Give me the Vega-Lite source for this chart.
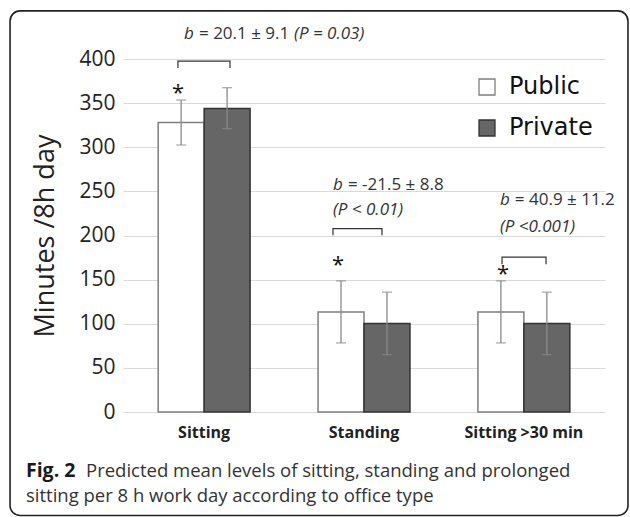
{
  "$schema": "https://vega.github.io/schema/vega-lite/v6.json",
  "width": 482,
  "height": 353,
  "autosize": {"type": "none"},
  "padding": {"left": 123, "top": 59, "right": 25, "bottom": 105},
  "background": "white",
  "config": {"view": {"stroke": null}, "font": "Open Sans"},
  "datasets": {
    "bars": [
      {"cat": "Sitting", "type": "Public", "value": 328, "lo": 302.5, "hi": 353.5},
      {"cat": "Sitting", "type": "Private", "value": 344, "lo": 321, "hi": 367.5},
      {"cat": "Standing", "type": "Public", "value": 113.4, "lo": 78.3, "hi": 148.6},
      {"cat": "Standing", "type": "Private", "value": 100.3, "lo": 65, "hi": 135.8},
      {"cat": "Sitting >30 min", "type": "Public", "value": 113.4, "lo": 78.3, "hi": 148.6},
      {"cat": "Sitting >30 min", "type": "Private", "value": 100.3, "lo": 65, "hi": 135.8}
    ],
    "brackets": [
      {"id": 1, "ord": 1, "bx": 0.342, "by": 389.8},
      {"id": 1, "ord": 2, "bx": 0.342, "by": 397.7},
      {"id": 1, "ord": 3, "bx": 0.666, "by": 397.7},
      {"id": 1, "ord": 4, "bx": 0.666, "by": 389.8},
      {"id": 2, "ord": 1, "bx": 1.307, "by": 200.4},
      {"id": 2, "ord": 2, "bx": 1.307, "by": 207.8},
      {"id": 2, "ord": 3, "bx": 1.612, "by": 207.8},
      {"id": 2, "ord": 4, "bx": 1.612, "by": 200.4},
      {"id": 3, "ord": 1, "bx": 2.359, "by": 167.5},
      {"id": 3, "ord": 2, "bx": 2.359, "by": 175.5},
      {"id": 3, "ord": 3, "bx": 2.633, "by": 175.5},
      {"id": 3, "ord": 4, "bx": 2.633, "by": 167.5}
    ],
    "stars": [
      {"sx": 0.342, "sy": 368.2},
      {"sx": 1.338, "sy": 173.2},
      {"sx": 2.365, "sy": 163.0}
    ],
    "notesItalic": [
      {"nx": 0.380, "ny": 428.2, "label": "b"},
      {"nx": 1.065, "ny": 428.2, "label": "(P = 0.03)"},
      {"nx": 1.307, "ny": 257.1, "label": "b"},
      {"nx": 1.307, "ny": 228.7, "label": "(P < 0.01)"},
      {"nx": 2.346, "ny": 240.2, "label": "b"},
      {"nx": 2.346, "ny": 209.6, "label": "(P <0.001)"}
    ],
    "notesRegular": [
      {"nx": 0.473, "ny": 428.2, "label": "= 20.1 ± 9.1"},
      {"nx": 1.400, "ny": 257.1, "label": "= -21.5 ± 8.8"},
      {"nx": 2.439, "ny": 240.2, "label": "= 40.9 ± 11.2"}
    ],
    "captionBold": [
      {"cx": -0.604, "cy": -74.1, "label": "Fig. 2"}
    ],
    "captionRegular": [
      {"cx": -0.230, "cy": -74.1, "label": "Predicted mean levels of sitting, standing and prolonged"},
      {"cx": -0.604, "cy": -102.4, "label": "sitting per 8 h work day according to office type"}
    ],
    "frame": [
      {"fx": -0.703, "fx2": 3.143, "fy": 454.5, "fy2": -117.2}
    ]
  },
  "resolve": {"scale": {"x": "independent"}, "axis": {"x": "independent"}},
  "layer": [
    {
      "data": {"name": "frame"},
      "mark": {"type": "rect", "filled": false, "stroke": "#222222", "strokeWidth": 1.6, "cornerRadius": 10},
      "encoding": {
        "x": {"field": "fx", "type": "quantitative", "scale": {"domain": [0, 3], "nice": false, "zero": false}, "axis": null},
        "x2": {"field": "fx2"},
        "y": {"field": "fy", "type": "quantitative", "scale": {"domain": [0, 400], "nice": false, "zero": false}},
        "y2": {"field": "fy2"}
      }
    },
    {
      "data": {"name": "bars"},
      "mark": {"type": "bar", "strokeWidth": 1.5},
      "encoding": {
        "x": {
          "field": "cat", "type": "nominal", "sort": null,
          "scale": {"domain": ["Sitting", "Standing", "Sitting >30 min"], "paddingInner": 0.425, "paddingOuter": 0.22},
          "axis": {"title": null, "labelAngle": 0, "labelFontSize": 16, "labelFontWeight": "bold", "labelColor": "#222222", "ticks": false, "domain": false, "labelPadding": 12, "grid": false}
        },
        "xOffset": {"field": "type", "type": "nominal", "scale": {"domain": ["Public", "Private"], "paddingInner": 0, "paddingOuter": 0}},
        "y": {
          "field": "value", "type": "quantitative",
          "scale": {"domain": [0, 400], "nice": false, "zero": false},
          "axis": {"title": "Minutes /8h day", "titleFontSize": 27, "titleFontWeight": "normal", "titleColor": "#222222", "titlePadding": 19, "labelFontSize": 21, "labelColor": "#222222", "labelPadding": 8, "ticks": false, "domain": false, "grid": true, "gridColor": "#d9d9d9", "gridWidth": 1, "values": [0, 50, 100, 150, 200, 250, 300, 350, 400]}
        },
        "fill": {
          "field": "type", "type": "nominal",
          "scale": {"domain": ["Public", "Private"], "range": ["#ffffff", "#666666"]},
          "legend": {"title": null, "orient": "none", "legendX": 352, "legendY": 16, "symbolType": "square", "symbolSize": 256, "symbolStrokeWidth": 1.3, "labelFont": "DejaVu Sans", "labelFontSize": 24, "labelColor": "#111111", "rowPadding": 17, "labelOffset": 10, "padding": 0}
        },
        "stroke": {
          "field": "type", "type": "nominal",
          "scale": {"domain": ["Public", "Private"], "range": ["#7f7f7f", "#333333"]},
          "legend": null
        }
      }
    },
    {
      "data": {"name": "bars"},
      "mark": {"type": "rule", "color": "#8a8a8a", "strokeWidth": 1.3},
      "encoding": {
        "x": {"field": "cat", "type": "nominal", "scale": {"domain": ["Sitting", "Standing", "Sitting >30 min"], "paddingInner": 0.425, "paddingOuter": 0.22}, "axis": null},
        "xOffset": {"field": "type", "type": "nominal", "scale": {"domain": ["Public", "Private"], "paddingInner": 0, "paddingOuter": 0}},
        "y": {"field": "lo", "type": "quantitative", "scale": {"domain": [0, 400], "nice": false, "zero": false}},
        "y2": {"field": "hi"}
      }
    },
    {
      "data": {"name": "bars"},
      "mark": {"type": "tick", "color": "#8a8a8a", "thickness": 1.3, "size": 10},
      "encoding": {
        "x": {"field": "cat", "type": "nominal", "scale": {"domain": ["Sitting", "Standing", "Sitting >30 min"], "paddingInner": 0.425, "paddingOuter": 0.22}, "axis": null},
        "xOffset": {"field": "type", "type": "nominal", "scale": {"domain": ["Public", "Private"], "paddingInner": 0, "paddingOuter": 0}},
        "y": {"field": "lo", "type": "quantitative", "scale": {"domain": [0, 400], "nice": false, "zero": false}}
      }
    },
    {
      "data": {"name": "bars"},
      "mark": {"type": "tick", "color": "#8a8a8a", "thickness": 1.3, "size": 10},
      "encoding": {
        "x": {"field": "cat", "type": "nominal", "scale": {"domain": ["Sitting", "Standing", "Sitting >30 min"], "paddingInner": 0.425, "paddingOuter": 0.22}, "axis": null},
        "xOffset": {"field": "type", "type": "nominal", "scale": {"domain": ["Public", "Private"], "paddingInner": 0, "paddingOuter": 0}},
        "y": {"field": "hi", "type": "quantitative", "scale": {"domain": [0, 400], "nice": false, "zero": false}}
      }
    },
    {
      "data": {"name": "brackets"},
      "mark": {"type": "line", "color": "#333333", "strokeWidth": 1.2, "interpolate": "linear"},
      "encoding": {
        "x": {"field": "bx", "type": "quantitative", "scale": {"domain": [0, 3], "nice": false, "zero": false}, "axis": null},
        "y": {"field": "by", "type": "quantitative", "scale": {"domain": [0, 400], "nice": false, "zero": false}},
        "detail": {"field": "id", "type": "nominal"},
        "order": {"field": "ord", "type": "quantitative"}
      }
    },
    {
      "data": {"name": "stars"},
      "mark": {"type": "text", "text": "*", "fontSize": 22, "color": "#111111", "baseline": "middle", "align": "center", "dy": 6},
      "encoding": {
        "x": {"field": "sx", "type": "quantitative", "scale": {"domain": [0, 3], "nice": false, "zero": false}, "axis": null},
        "y": {"field": "sy", "type": "quantitative", "scale": {"domain": [0, 400], "nice": false, "zero": false}}
      }
    },
    {
      "data": {"name": "notesItalic"},
      "mark": {"type": "text", "fontSize": 17, "fontStyle": "italic", "color": "#333333", "baseline": "middle", "align": "left"},
      "encoding": {
        "x": {"field": "nx", "type": "quantitative", "scale": {"domain": [0, 3], "nice": false, "zero": false}, "axis": null},
        "y": {"field": "ny", "type": "quantitative", "scale": {"domain": [0, 400], "nice": false, "zero": false}},
        "text": {"field": "label"}
      }
    },
    {
      "data": {"name": "notesRegular"},
      "mark": {"type": "text", "fontSize": 17, "color": "#333333", "baseline": "middle", "align": "left"},
      "encoding": {
        "x": {"field": "nx", "type": "quantitative", "scale": {"domain": [0, 3], "nice": false, "zero": false}, "axis": null},
        "y": {"field": "ny", "type": "quantitative", "scale": {"domain": [0, 400], "nice": false, "zero": false}},
        "text": {"field": "label"}
      }
    },
    {
      "data": {"name": "captionBold"},
      "mark": {"type": "text", "fontSize": 19.5, "fontWeight": "bold", "color": "#1a1a1a", "baseline": "alphabetic", "align": "left"},
      "encoding": {
        "x": {"field": "cx", "type": "quantitative", "scale": {"domain": [0, 3], "nice": false, "zero": false}, "axis": null},
        "y": {"field": "cy", "type": "quantitative", "scale": {"domain": [0, 400], "nice": false, "zero": false}},
        "text": {"field": "label"}
      }
    },
    {
      "data": {"name": "captionRegular"},
      "mark": {"type": "text", "fontSize": 18.5, "color": "#333333", "baseline": "alphabetic", "align": "left"},
      "encoding": {
        "x": {"field": "cx", "type": "quantitative", "scale": {"domain": [0, 3], "nice": false, "zero": false}, "axis": null},
        "y": {"field": "cy", "type": "quantitative", "scale": {"domain": [0, 400], "nice": false, "zero": false}},
        "text": {"field": "label"}
      }
    }
  ]
}
